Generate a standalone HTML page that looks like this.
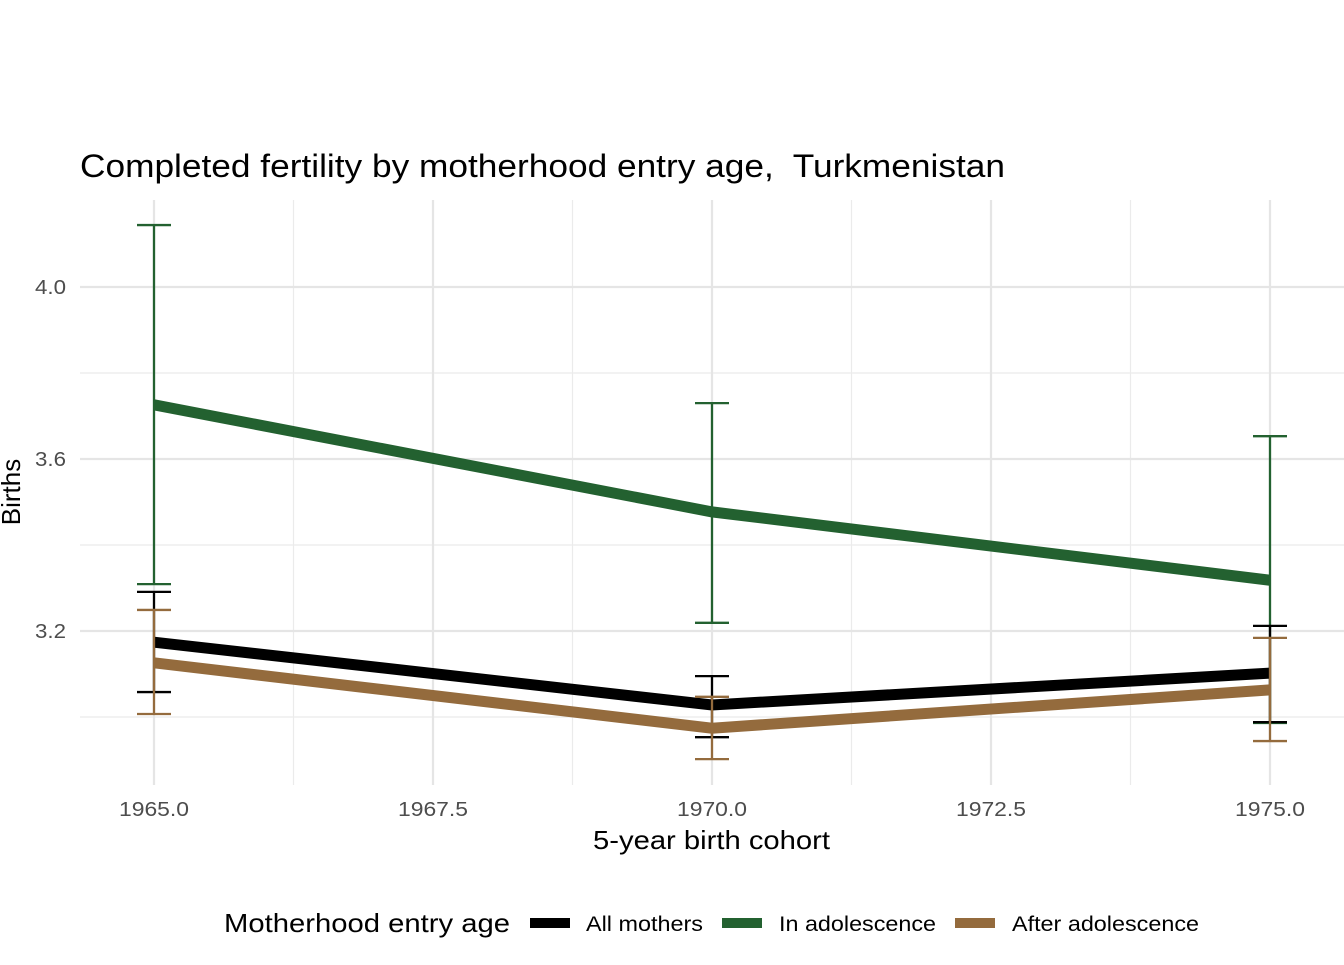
<!DOCTYPE html>
<html><head><meta charset="utf-8"><style>
body{margin:0;background:#fff;font-family:"Liberation Sans",Arial,sans-serif}
</style></head><body>
<svg id="chart" width="1344" height="960" xmlns="http://www.w3.org/2000/svg">
<text x="80" y="177" font-size="32" fill="#000" textLength="925" lengthAdjust="spacingAndGlyphs">Completed fertility by motherhood entry age,&#160; Turkmenistan</text>
<g id="grid"></g>
<g id="marks"></g>
<g id="axes"></g>
<text x="593" y="849" font-size="26" textLength="237" lengthAdjust="spacingAndGlyphs">5-year birth cohort</text>
<text transform="translate(20,492) rotate(-90)" font-size="26" text-anchor="middle">Births</text>
<g>
<text x="224" y="932" font-size="26" textLength="286" lengthAdjust="spacingAndGlyphs">Motherhood entry age</text>
<g><rect x="530" y="918" width="40" height="10" fill="#000"/><text x="586" y="931" font-size="21" textLength="117" lengthAdjust="spacingAndGlyphs">All mothers</text></g>
<g><rect x="722" y="918" width="40" height="10" fill="#236130"/><text x="779" y="931" font-size="21" textLength="157" lengthAdjust="spacingAndGlyphs">In adolescence</text></g>
<g><rect x="955" y="918" width="40" height="10" fill="#946b3d"/><text x="1012" y="931" font-size="21" textLength="187" lengthAdjust="spacingAndGlyphs">After adolescence</text></g>
</g>
</svg>
<script>
const cohorts=[1965,1970,1975];
const seriesNames=["In adolescence","All mothers","After adolescence"];
const greenVals=[3.726,3.477,3.318];
const greenLo=[3.309,3.219,2.986];
const greenHi=[4.144,3.730,3.653];
const blackVals=[3.174,3.028,3.102];
const blackLo=[3.058,2.953,2.988];
const blackHi=[3.291,3.095,3.212];
const brownVals=[3.126,2.974,3.063];
const brownLo=[3.007,2.902,2.944];
const brownHi=[3.249,3.047,3.184];
const xTicks=[1965,1967.5,1970,1972.5,1975];
const yTicks=[3.2,3.6,4.0];
const yMinor=[3.0,3.4,3.8];
const xMinor=[1966.25,1968.75,1971.25,1973.75];
const NS="http://www.w3.org/2000/svg";
const x=v=>154+(v-1965)*111.6;
const y=v=>631-(v-3.2)*430;
const L=80,R=1344,T=200,B=785;
function mk(parent,tag,attrs){const e=document.createElementNS(NS,tag);for(const k in attrs)e.setAttribute(k,attrs[k]);document.getElementById(parent).appendChild(e);return e;}
xMinor.forEach(v=>{const e=mk("grid","line",{x1:x(v),x2:x(v),y1:T,y2:B,stroke:"#ebebeb","stroke-width":1.2});

});
yMinor.forEach(v=>{const e=mk("grid","line",{x1:L,x2:R,y1:y(v),y2:y(v),stroke:"#ebebeb","stroke-width":1.2});

});
xTicks.forEach(v=>{const e=mk("grid","line",{x1:x(v),x2:x(v),y1:T,y2:B,stroke:"#e5e5e5","stroke-width":2.2});


const t=mk("axes","text",{x:x(v)-35,y:816,"font-size":20,textLength:70,lengthAdjust:"spacingAndGlyphs",fill:"#4d4d4d"});t.textContent=v.toFixed(1);

});
yTicks.forEach(v=>{const e=mk("grid","line",{x1:L,x2:R,y1:y(v),y2:y(v),stroke:"#e5e5e5","stroke-width":2.2});


const t=mk("axes","text",{x:35,y:y(v)+7,"font-size":20,textLength:31,lengthAdjust:"spacingAndGlyphs",fill:"#4d4d4d"});t.textContent=v.toFixed(1);

});
function series(name,vals,lo,hi,col){
 const pts=cohorts.map((c,i)=>x(c)+","+y(vals[i])).join(" ");
 const l=mk("marks","polyline",{points:pts,fill:"none",stroke:col,"stroke-width":11});
 
 
 cohorts.forEach((c,i)=>{const cx=x(c);
  const p=mk("marks","path",{d:`M${cx-17},${y(hi[i])}H${cx+17}M${cx},${y(hi[i])}V${y(lo[i])}M${cx-17},${y(lo[i])}H${cx+17}`,stroke:col,"stroke-width":2.3,fill:"none"});
  
  });
}
series("adolescence",greenVals,greenLo,greenHi,"#236130");
series("all-mothers",blackVals,blackLo,blackHi,"#000");
series("after-adolescence",brownVals,brownLo,brownHi,"#946b3d");
</script>
</body></html>
